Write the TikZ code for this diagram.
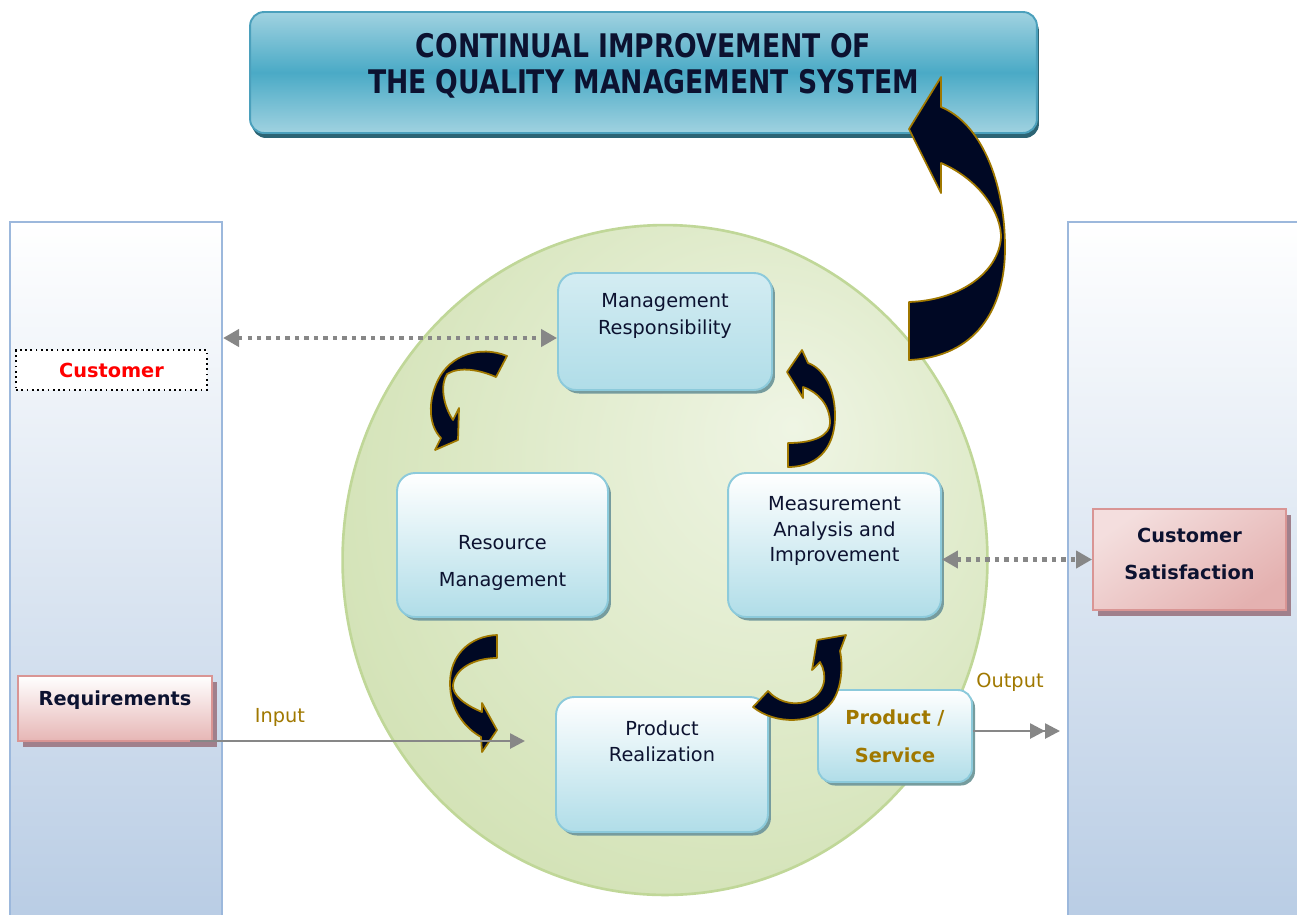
\documentclass[tikz,border=0pt]{standalone}
\usepackage{fontspec}
\setmainfont{DejaVu Sans}
\newfontfamily\headfont[FakeStretch=0.82]{DejaVu Sans}
\usetikzlibrary{arrows.meta,shadows,shapes.geometric}
\definecolor{ink}{RGB}{12,18,48}
\definecolor{arrowfill}{RGB}{0,8,36}
\definecolor{gold}{RGB}{160,120,0}
\definecolor{conn}{RGB}{135,135,135}
\definecolor{boxline}{RGB}{140,202,219}
\definecolor{boxlow}{RGB}{176,221,232}
\definecolor{boxshade}{RGB}{118,156,158}
\definecolor{colline}{RGB}{156,184,220}
\definecolor{collow}{RGB}{184,204,228}
\definecolor{pinkline}{RGB}{217,149,148}
\definecolor{pinklow}{RGB}{230,182,181}
\definecolor{pinkshade}{RGB}{160,128,140}
\definecolor{ginner}{RGB}{239,245,228}
\definecolor{gouter}{RGB}{206,223,174}
\definecolor{gline}{RGB}{192,215,152}
\definecolor{titletop}{RGB}{160,210,224}
\definecolor{titlemid}{RGB}{74,170,198}
\definecolor{titleline}{RGB}{75,160,188}
\definecolor{titleshade}{RGB}{44,100,116}
\pgfdeclareradialshading{greenball}{\pgfpoint{10bp}{10bp}}{color(0bp)=(ginner); color(38bp)=(gouter); color(60bp)=(gouter)}
\tikzset{stage/.style={draw=boxline, line width=1.1pt, rounded corners=0.36cm, top color=white, bottom color=boxlow,
    drop shadow={shadow xshift=0.06cm, shadow yshift=-0.07cm, fill=boxshade, opacity=1}}}
\tikzset{txt/.style={align=center, text=ink, font=\fontsize{11}{15}\selectfont}}
\tikzset{btxt/.style={align=center, font=\bfseries\fontsize{11}{21.5}\selectfont}}
\tikzset{column/.style={draw=colline, line width=1.2pt, top color=white, bottom color=collow}}
\tikzset{pinkbox/.style={draw=pinkline, line width=1.1pt,
    drop shadow={shadow xshift=0.1cm, shadow yshift=-0.12cm, fill=pinkshade, opacity=1}}}
\tikzset{turn/.style={fill=arrowfill, draw=gold, line width=1pt, line join=round}}
\tikzset{dotlink/.style={conn, line width=2.4pt, dash pattern=on 2.4pt off 3pt,
    {Triangle[length=0.32cm,width=0.34cm]}-{Triangle[length=0.32cm,width=0.34cm]}}}
\tikzset{link/.style={conn, line width=1.5pt, -{Triangle[length=0.3cm,width=0.3cm]}}}

\begin{document}
\begin{tikzpicture}[x=0.02cm,y=-0.02cm]
  \clip (0,0) rectangle (1297,914);
  % side columns
  \node[column, minimum width=4.24cm, minimum height=14.16cm] (leftcol) at (116,576) {};
  \node[column, minimum width=4.84cm, minimum height=14.16cm] (rightcol) at (1189,576) {};
  % process circle
  \node[ellipse, draw=gline, line width=1.5pt, shading=greenball, minimum width=12.9cm, minimum height=13.4cm] (cycle) at (665,560) {};
  % heading
  \node[draw=titleline, line width=1.1pt, rounded corners=0.28cm, top color=titletop, bottom color=titletop, middle color=titlemid,
    minimum width=15.74cm, minimum height=2.42cm,
    drop shadow={shadow xshift=0.04cm, shadow yshift=-0.1cm, fill=titleshade, opacity=1}] (title) at (643.5,72.5) {};
  \node[align=center, text=ink, font=\headfont\bfseries\fontsize{18.5}{20.4}\selectfont] (titleTxt) at (643.5,66)
    {CONTINUAL IMPROVEMENT OF\\THE QUALITY MANAGEMENT SYSTEM};
  % stages
  \node[stage, top color=boxlow!55!white, minimum width=4.28cm, minimum height=2.34cm] (mgmt) at (665,331.5) {};
  \node[txt] (mgmtTxt) at (665,316) {Management\\Responsibility};
  \node[stage, minimum width=4.22cm, minimum height=2.88cm] (res) at (502.5,545) {};
  \node[txt, font=\fontsize{11}{21.5}\selectfont] (resTxt) at (502.5,563) {Resource\\Management};
  \node[stage, minimum width=4.26cm, minimum height=2.88cm] (meas) at (834.5,545) {};
  \node[txt, font=\fontsize{11}{14.7}\selectfont] (measTxt) at (834.5,531) {Measurement\\Analysis and\\Improvement};
  \node[stage, minimum width=4.24cm, minimum height=2.7cm] (prod) at (662,764.5) {};
  \node[txt, font=\fontsize{11}{14.7}\selectfont] (prodTxt) at (662,741) {Product\\Realization};
  \node[stage, rounded corners=0.28cm, minimum width=3.08cm, minimum height=1.84cm, btxt, text=gold] (ps) at (895,736) {Product /\\Service};
  % customer side
  \node[draw=black, dotted, line width=1pt, fill=white, minimum width=3.82cm, minimum height=0.8cm, btxt, text=red] (cust) at (111.5,370) {Customer};
  \node[pinkbox, top color=white, bottom color=pinklow, minimum width=3.88cm, minimum height=1.3cm] (req) at (115,708.5) {};
  \node[btxt, text=ink] (reqTxt) at (115,700) {Requirements};
  \node[pinkbox, top color=pinklow!45!white, bottom color=pinklow!85!pinkline, shading angle=35,
    minimum width=3.86cm, minimum height=2.02cm] (sat) at (1189.5,559.5) {};
  \node[btxt, text=ink] (satTxt) at (1189.5,554) {Customer\\Satisfaction};
  % links
  \draw[dotlink] ([yshift=-0.13cm]leftcol.east |- mgmt.west) -- ([yshift=-0.13cm]mgmt.west);
  \draw[dotlink] (meas.east |- sat.west) -- (sat.west);
  % turning arrows
  \draw[turn] (941,77) -- (909,129) -- (941,193) -- (941,163)
    .. controls (972,176) and (999,205) .. (1001,235)
    .. controls (1001,268) and (965,300) .. (909,302) -- (909,360)
    .. controls (975,357) and (1005,310) .. (1005,248)
    .. controls (1005,180) and (980,123) .. (941,107) -- cycle;
  \draw[turn] (802,350) -- (787,372) -- (803,398) -- (803,387)
    .. controls (818,392) and (830,405) .. (830,423)
    .. controls (830,435) and (815,443) .. (788,443) -- (788,467)
    .. controls (820,467) and (836,445) .. (835,413)
    .. controls (834,385) and (822,368) .. (808,363) -- cycle;
  \draw[turn] (507,356) .. controls (480,345) and (450,355) .. (438,380)
    .. controls (428,400) and (428,425) .. (441,438) -- (435,450) -- (458,440) -- (459,408) -- (453,420)
    .. controls (443,405) and (440,385) .. (447,374)
    .. controls (460,366) and (480,370) .. (496,377) -- cycle;
  \draw[turn] (497,635) .. controls (470,636) and (450,655) .. (450,683)
    .. controls (450,710) and (465,728) .. (481,737) -- (482,752) -- (497,730) -- (482,703) -- (482,712)
    .. controls (465,705) and (452,695) .. (453,685)
    .. controls (455,668) and (475,658) .. (497,658) -- cycle;
  \draw[turn] (846,635) -- (817,640) -- (812,670) -- (820,662)
    .. controls (828,675) and (826,695) .. (805,702)
    .. controls (790,706) and (776,700) .. (768,691) -- (753,707)
    .. controls (775,725) and (815,725) .. (832,702)
    .. controls (842,688) and (843,665) .. (840,651) -- cycle;
  % input / output
  \coordinate (inStart) at (190,741);
  \coordinate (inEnd) at (525,741);
  \draw[link] (inStart) -- (inEnd);
  \node[txt, text=gold] (inLbl) at (280,717) {Input};
  \coordinate (outEnd) at (1060,731);
  \draw[link, -{Triangle[length=0.3cm,width=0.3cm]Triangle[length=0.3cm,width=0.3cm]}] (ps.east |- outEnd) -- (outEnd);
  \node[txt, text=gold] (outLbl) at (1010,682) {Output};
\end{tikzpicture}
\end{document}
